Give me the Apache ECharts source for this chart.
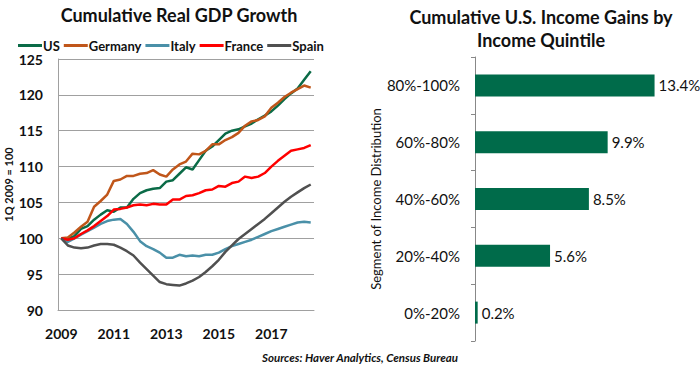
<!DOCTYPE html>
<html>
<head>
<meta charset="utf-8">
<script src="https://cdn.jsdelivr.net/npm/echarts@6/dist/echarts.min.js"></script>
<style>html,body{margin:0;padding:0;background:#fff}#c{width:700px;height:370px}</style>
</head>
<body>
<div id="c"></div>
<script>
// ---- Data ----
const quarters = [];
for (let y = 2009; y <= 2018; y++) for (let q = 1; q <= 4; q++) quarters.push(y + 'Q' + q);
quarters.length = 39; // 2009Q1 .. 2018Q3
const xTickLabels = ['2009', '2011', '2013', '2015', '2017'];

const us = [100,99.9,100.3,101.3,101.7,102.6,103.3,103.9,103.7,104.3,104.3,105.5,106.3,106.7,106.9,107.0,107.9,108.1,109.0,109.9,109.6,110.9,112.2,112.8,113.7,114.6,115.0,115.2,115.6,116.0,116.6,117.1,117.7,118.5,119.4,120.2,120.9,122.1,123.3];
const germany = [100,100.1,100.8,101.6,102.3,104.4,105.2,106.1,108.0,108.2,108.7,108.7,109.0,109.1,109.5,108.9,108.6,109.6,110.3,110.7,111.8,111.7,112.2,113.1,113.1,113.7,114.1,114.7,115.7,116.3,116.5,117.0,118.2,118.9,119.7,120.3,120.8,121.3,121.0];
const italy = [100,99.5,100.0,100.5,101.0,101.5,102.0,102.4,102.6,102.7,102.0,100.9,99.6,98.9,98.5,98.0,97.3,97.3,97.7,97.5,97.6,97.5,97.7,97.7,98.0,98.5,98.9,99.2,99.5,99.8,100.2,100.6,101.0,101.3,101.6,101.9,102.2,102.3,102.2];
const france = [100,99.8,100.0,100.6,101.1,101.7,102.4,103.1,104.0,104.1,104.3,104.6,104.7,104.6,104.8,104.7,104.7,105.4,105.4,105.9,106.0,106.3,106.7,106.8,107.3,107.2,107.7,107.9,108.6,108.4,108.6,109.1,110.0,110.8,111.5,112.2,112.4,112.6,113.0];
const spain = [100,99.0,98.7,98.6,98.7,99.0,99.2,99.2,99.1,98.7,98.2,97.6,96.6,95.7,94.8,93.9,93.6,93.5,93.4,93.7,94.1,94.6,95.3,96.1,97.0,98.1,99.0,99.9,100.6,101.3,102.0,102.7,103.5,104.3,105.1,105.8,106.4,107.0,107.5];

const quintiles = ['0%-20%', '20%-40%', '40%-60%', '60%-80%', '80%-100%'];
const incomeGains = [0.2, 5.6, 8.5, 9.9, 13.4];

// ---- Chart ----
const FONT = 'Lato';
const chart = echarts.init(document.getElementById('c'), null, {renderer: 'svg'});
const lineSeries = (name, data, color) => ({
  name, type: 'line', data, xAxisIndex: 0, yAxisIndex: 0,
  showSymbol: false, symbol: 'none',
  lineStyle: {color, width: 2.5}, itemStyle: {color}
});

chart.setOption({
  animation: false,
  textStyle: {fontFamily: FONT},
  title: [
    {text: 'Cumulative Real GDP Growth', left: 174, top: 1, textAlign: 'center',
     textStyle: {fontFamily: FONT, fontSize: 18, fontWeight: 'bold', color: '#111'}},
    {text: 'Cumulative U.S. Income Gains by\nIncome Quintile', left: 536, top: 0, textAlign: 'center',
     textStyle: {fontFamily: FONT, fontSize: 18, fontWeight: 'bold', color: '#111', lineHeight: 23}},
    {text: 'Sources: Haver Analytics, Census Bureau', left: 355, top: 346, textAlign: 'center',
     textStyle: {fontFamily: FONT, fontSize: 11.5, fontWeight: 'bold', fontStyle: 'italic', color: '#111'}}
  ],
  legend: {
    left: 13, top: 34, itemWidth: 24, itemHeight: 3, itemGap: 4, icon: 'rect',
    data: ['US', 'Germany', 'Italy', 'France', 'Spain'],
    textStyle: {fontFamily: FONT, fontSize: 13, fontWeight: 'bold', color: '#111', padding: [0, 0, 0, -4]}
  },
  grid: [
    {left: 58, top: 59, width: 256, height: 251},
    {left: 475, top: 57, width: 201, height: 284}
  ],
  xAxis: [
    {type: 'category', gridIndex: 0, data: quarters, boundaryGap: true,
     axisLine: {lineStyle: {color: '#a0a0a0'}}, axisTick: {show: false},
     axisLabel: {interval: (i) => i % 8 === 0, margin: 16,
       formatter: (v, i) => xTickLabels[i / 8] || '',
       fontFamily: FONT, fontSize: 14, fontWeight: 'bold', color: '#111'}},
    {type: 'value', gridIndex: 1, min: 0, max: 15, show: false}
  ],
  yAxis: [
    {type: 'value', gridIndex: 0, min: 90, max: 125, interval: 5,
     axisLine: {show: true, lineStyle: {color: '#a0a0a0'}}, axisTick: {show: false},
     splitLine: {lineStyle: {color: '#a0a0a0'}},
     axisLabel: {margin: 15, fontFamily: FONT, fontSize: 14, fontWeight: 'bold', color: '#111'},
     name: '1Q 2009 = 100', nameLocation: 'middle', nameRotate: 90, nameGap: 44,
     nameTextStyle: {fontFamily: FONT, fontSize: 11, fontWeight: 'bold', color: '#111'}},
    {type: 'category', gridIndex: 1, data: quintiles,
     axisLine: {show: true, lineStyle: {color: '#888'}},
     axisTick: {show: true, length: 4, lineStyle: {color: '#888'}},
     splitLine: {show: false},
     axisLabel: {margin: 15, fontFamily: FONT, fontSize: 15, color: '#111'},
     name: 'Segment of Income Distribution', nameLocation: 'middle', nameRotate: 90, nameGap: 86,
     nameTextStyle: {fontFamily: FONT, fontSize: 13, color: '#111'}}
  ],
  series: [
    lineSeries('US', us, '#0b6b47'),
    lineSeries('Germany', germany, '#c0561a'),
    lineSeries('Italy', italy, '#4a90a8'),
    lineSeries('France', france, '#ff0000'),
    lineSeries('Spain', spain, '#505050'),
    {type: 'bar', xAxisIndex: 1, yAxisIndex: 1, data: incomeGains, barWidth: 22,
     itemStyle: {color: '#006b4a'},
     label: {show: true, position: 'right', distance: 4, formatter: (p) => p.value.toFixed(1) + '%',
       fontFamily: FONT, fontSize: 15, color: '#111'}}
  ]
});
</script>
</body>
</html>
